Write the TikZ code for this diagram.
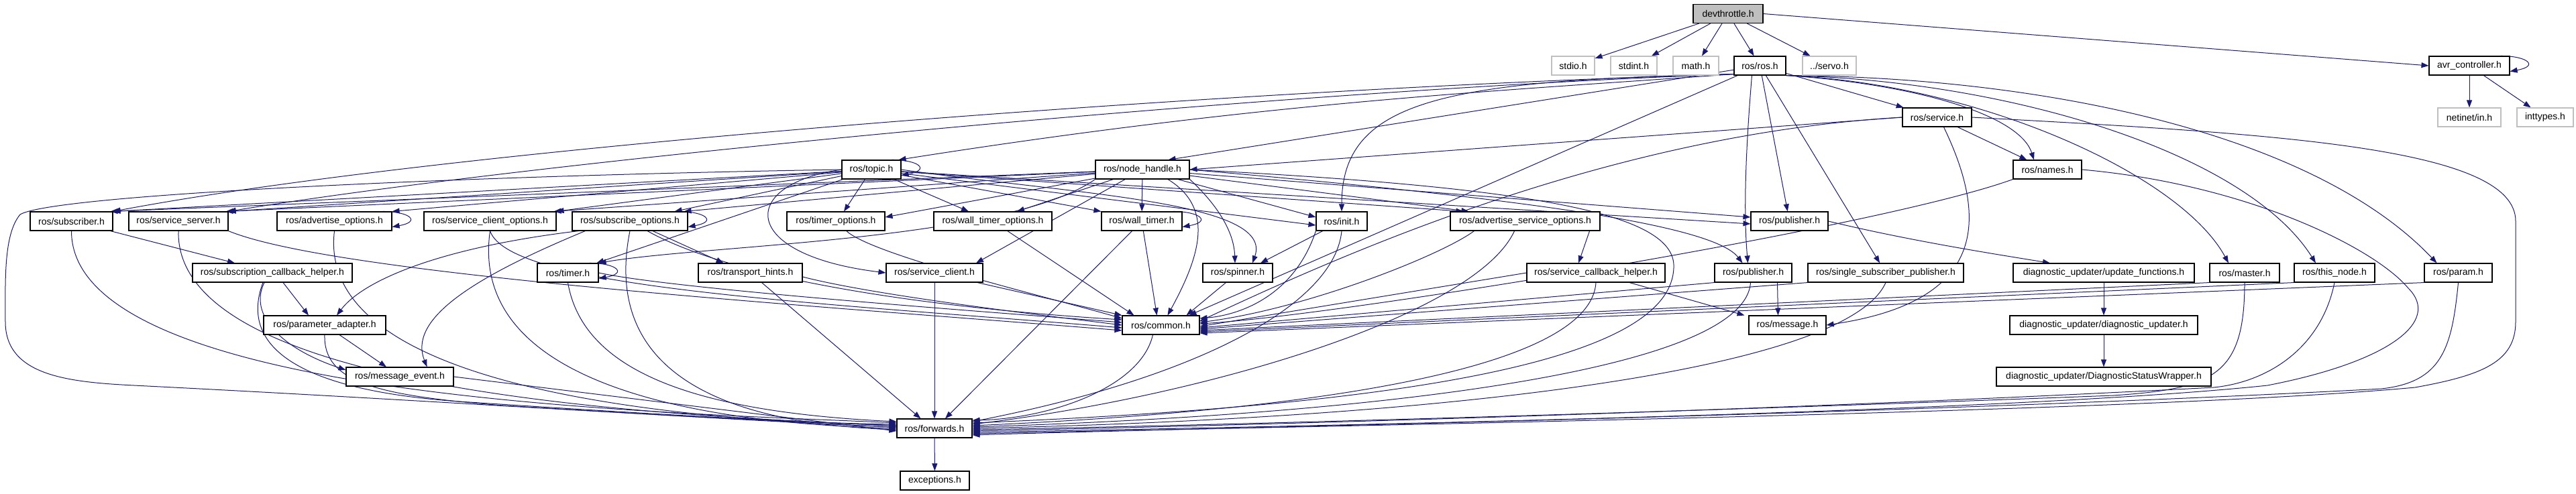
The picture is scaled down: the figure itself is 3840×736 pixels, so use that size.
\documentclass[tikz,border=0pt]{standalone}
\usepackage{fontspec}
\setmainfont{Liberation Sans}
\usetikzlibrary{arrows.meta}
\definecolor{edgeblue}{HTML}{191970}
\definecolor{extgray}{HTML}{BFBFBF}
\pgfdeclarelayer{edgelayer}
\pgfsetlayers{edgelayer,main}
\tikzset{
  hdr/.style={draw=black, line width=0.55pt, fill=white, minimum height=14pt,
    inner sep=0pt, font=\fontsize{7}{8}\selectfont},
  ext/.style={hdr, draw=extgray},
  root/.style={hdr, fill=extgray},
  wd/.style={minimum width=#1*0.5pt},
  e/.style={draw=edgeblue, line width=0.5pt, -{Triangle[length=5.5pt,width=4pt]}},
}
\newcommand{\hdrloop}[1]{\draw[e] ([xshift=-7pt]#1.north east) .. controls +(20pt,0pt) and +(22pt,4pt) .. ([yshift=3pt]#1.south east);}
\begin{document}
\begin{tikzpicture}[x=0.5pt,y=-0.5pt]
\useasboundingbox (0,0) rectangle (3840,736);
% ---------------- nodes
\node[root, wd=104] (dev) at (2576,20.5) {devthrottle.h};
\node[ext, wd=64] (stdio) at (2345,98) {stdio.h};
\node[ext, wd=69] (stdint) at (2435.5,98) {stdint.h};
\node[ext, wd=68] (math) at (2528,98) {math.h};
\node[hdr, wd=77] (ros) at (2623.5,98) {ros/ros.h};
\node[ext, wd=80] (servo) at (2727,98) {../servo.h};
\node[hdr, wd=120] (avr) at (3681,98) {avr\_controller.h};
\node[hdr, wd=103] (service) at (2887.5,175) {ros/service.h};
\node[ext, wd=94] (netinet) at (3681,175) {netinet/in.h};
\node[ext, wd=84] (inttypes) at (3794,175) {inttypes.h};
\node[hdr, wd=88] (topic) at (1299,253) {ros/topic.h};
\node[hdr, wd=140] (nh) at (1703,253) {ros/node\_handle.h};
\node[hdr, wd=102] (names) at (3052,253) {ros/names.h};
\node[hdr, wd=123] (subscriber) at (106.5,330) {ros/subscriber.h};
\node[hdr, wd=148] (srvserver) at (266,330) {ros/service\_server.h};
\node[hdr, wd=171] (advopts) at (498.5,330) {ros/advertise\_options.h};
\node[hdr, wd=197] (srvcliopts) at (730.5,330) {ros/service\_client\_options.h};
\node[hdr, wd=172] (subopts) at (939,330) {ros/subscribe\_options.h};
\node[hdr, wd=146] (timeropts) at (1246,330) {ros/timer\_options.h};
\node[hdr, wd=176] (walltimeropts) at (1480,330) {ros/wall\_timer\_options.h};
\node[hdr, wd=120] (walltimer) at (1702,330) {ros/wall\_timer.h};
\node[hdr, wd=76] (init) at (2000,330) {ros/init.h};
\node[hdr, wd=223] (advsrvopts) at (2273.5,330) {ros/advertise\_service\_options.h};
\node[hdr, wd=115] (pubA) at (2667.5,330) {ros/publisher.h};
\node[hdr, wd=238] (subcbhelper) at (406,407) {ros/subscription\_callback\_helper.h};
\node[hdr, wd=91] (timer) at (846.5,407) {ros/timer.h};
\node[hdr, wd=155] (transport) at (1118.5,407) {ros/transport\_hints.h};
\node[hdr, wd=144] (srvclient) at (1393,407) {ros/service\_client.h};
\node[hdr, wd=104] (spinner) at (1845,407) {ros/spinner.h};
\node[hdr, wd=206] (srvcbhelper) at (2379,407) {ros/service\_callback\_helper.h};
\node[hdr, wd=115] (pubB) at (2613.5,407) {ros/publisher.h};
\node[hdr, wd=232] (ssp) at (2811,407) {ros/single\_subscriber\_publisher.h};
\node[hdr, wd=270] (updfunc) at (3136,407) {diagnostic\_updater/update\_functions.h};
\node[hdr, wd=104] (master) at (3346,407) {ros/master.h};
\node[hdr, wd=120] (thisnode) at (3480,407) {ros/this\_node.h};
\node[hdr, wd=101] (param) at (3664.5,407) {ros/param.h};
\node[hdr, wd=182] (paramadapter) at (484,485) {ros/parameter\_adapter.h};
\node[hdr, wd=115] (common) at (1730.5,485) {ros/common.h};
\node[hdr, wd=115] (message) at (2664.5,485) {ros/message.h};
\node[hdr, wd=280] (diagupd) at (3136,485) {diagnostic\_updater/diagnostic\_updater.h};
\node[hdr, wd=160] (msgevent) at (596,562) {ros/message\_event.h};
\node[hdr, wd=320] (dsw) at (3136,562) {diagnostic\_updater/DiagnosticStatusWrapper.h};
\node[hdr, wd=112] (forwards) at (1393,639) {ros/forwards.h};
\node[hdr, wd=103] (exceptions) at (1393.5,717) {exceptions.h};
\begin{pgfonlayer}{edgelayer}
% ---------------- devthrottle / avr
\draw[e] (dev) -- (stdio);
\draw[e] (dev) -- (stdint);
\draw[e] (dev) -- (math);
\draw[e] (dev) -- (ros);
\draw[e] (dev) -- (servo);
\draw[e] (dev.east) -- (avr.west);
\hdrloop{avr}
\draw[e] (avr) -- (netinet);
\draw[e] (avr) -- (inttypes);
% ---------------- ros.h
\draw[e] ([yshift=1pt]ros.south west) .. controls (2250,135) and (1900,150) .. ([xshift=-2pt]topic.north east);
\draw[e] (ros) -- ([xshift=-16pt]nh.north east);
\draw[e] ([yshift=1pt]ros.south west) .. controls (1900,130) and (700,215) .. (subscriber.north east);
\draw[e] ([yshift=1pt]ros.south west) .. controls (1900,135) and (800,240) .. (srvserver.north east);
\draw[e] ([yshift=1pt]ros.south west) .. controls (2150,120) and (2000,150) .. (init.north);
\draw[e] (ros) -- ([xshift=-8pt]common.north east);
\draw[e] (ros) -- (pubA);
\draw[e] ([xshift=-6pt]ros.south) .. controls (2600,250) and (2600,330) .. ([xshift=-4pt]pubB.north);
\draw[e] (ros) -- (ssp);
\draw[e] (ros) -- (service);
\draw[e] (ros.south east) .. controls (2850,125) and (3010,170) .. ([xshift=-10pt]names.north);
\draw[e] (ros.south east) .. controls (2950,125) and (3250,260) .. ([xshift=-12pt]master.north);
\draw[e] (ros.south east) .. controls (3000,120) and (3350,230) .. ([xshift=-14pt]thisnode.north);
\draw[e] (ros.south east) .. controls (3050,115) and (3450,200) .. ([xshift=-16pt]param.north);
% ---------------- service.h
\draw[e] (service.west) -- (nh.east);
\draw[e] (service.west) .. controls (2400,200) and (2000,380) .. ([yshift=3pt]common.east);
\draw[e] (service) -- (names);
\draw[e] ([xshift=5pt]service.south) .. controls (2965,330) and (2960,450) .. (message.east);
\draw[e] (service.east) .. controls (3400,200) and (3750,220) .. (3750,330) -- (3750,480) .. controls (3750,540) and (3700,560) .. (3600,578) .. controls (3200,615) and (2000,635) .. ([yshift=-4pt]forwards.east);
% ---------------- names.h
\draw[e] (names.south west) .. controls (2800,340) and (2000,470) .. ([yshift=1pt]common.east);
\draw[e] (names.east) .. controls (3350,275) and (3540,370) .. (3590,430) .. controls (3640,480) and (3560,540) .. (3380,575) .. controls (3000,615) and (2000,635) .. ([yshift=-3pt]forwards.east);
% ---------------- topic.h
\hdrloop{topic}
\draw[e] (topic) -- (subscriber.north east);
\draw[e] (topic) -- (srvserver.north east);
\draw[e] (topic) -- (advopts.north east);
\draw[e] (topic) -- (srvcliopts.north east);
\draw[e] (topic) -- ([xshift=-10pt]subopts.north east);
\draw[e] (topic) -- ([xshift=6pt]timeropts.north);
\draw[e] (topic) -- ([xshift=-18pt]walltimeropts.north);
\draw[e] (topic) -- (walltimer.north west);
\draw[e] (topic) -- ([yshift=-3pt]init.west);
\draw[e] (topic) -- ([xshift=10pt]advsrvopts.north west);
\draw[e] (topic) -- ([yshift=-2pt]pubA.west);
\draw[e] (topic) -- (timer);
\draw[e] (topic.west) .. controls (1100,275) and (1100,380) .. (srvclient.west);
\draw[e] (topic.east) .. controls (1600,290) and (1900,300) .. ([xshift=11pt]spinner.north);
\draw[e] (topic.west) .. controls (700,262) and (80,290) .. (30,320) .. controls (5,350) and (8,420) .. (8,480) .. controls (8,560) and (100,570) .. (200,575) .. controls (700,600) and (1100,630) .. ([yshift=3pt]forwards.west);
% ---------------- node_handle.h
\draw[e] (nh) -- ([xshift=-2pt]subscriber.north east);
\draw[e] (nh) -- ([xshift=-2pt]srvserver.north east);
\draw[e] (nh) -- ([xshift=-2pt]srvcliopts.north east);
\draw[e] (nh) -- ([xshift=-3pt]subopts.north east);
\draw[e] (nh) -- ([yshift=3pt]timeropts.east);
\draw[e] (nh) -- ([xshift=18pt]walltimeropts.north);
\draw[e] (nh) -- (walltimer);
\draw[e] (nh) -- ([yshift=3pt]init.west);
\draw[e] (nh) -- ([xshift=14pt]advsrvopts.north west);
\draw[e] (nh) -- ([yshift=3pt]pubA.west);
\draw[e] (nh.east) .. controls (2200,290) and (2550,330) .. ([xshift=-8pt]pubB.north);
\draw[e] (nh.south west) .. controls (1500,360) and (1050,365) .. (timer.north east);
\draw[e] (nh) -- ([xshift=31pt]srvclient.north);
\draw[e] (nh.south east) .. controls (1830,320) and (1840,360) .. ([xshift=-2pt]spinner.north);
\draw[e] ([xshift=19pt]nh.south) .. controls (1810,310) and (1790,380) .. ([xshift=5pt]common.north);
\draw[e] (nh.east) .. controls (2300,280) and (2500,320) .. (2495,400) .. controls (2490,520) and (2200,600) .. ([yshift=4pt]forwards.east);
% ---------------- row 4 sources
\draw[e] ([xshift=-2pt]subscriber.south east) -- ([xshift=-28pt]subcbhelper.north);
\draw[e] (subscriber.south) .. controls (106,600) and (1000,615) .. ([yshift=4pt]forwards.west);
\draw[e] (srvserver.south east) .. controls (500,410) and (1200,455) .. ([yshift=-4pt]common.west);
\draw[e] (srvserver.south) .. controls (260,590) and (1000,620) .. ([yshift=2pt]forwards.west);
\hdrloop{advopts}
\draw[e] (advopts.south) .. controls (470,580) and (1000,625) .. ([yshift=1pt]forwards.west);
\draw[e] (srvcliopts.south) .. controls (760,430) and (1200,450) .. ([yshift=-2pt]common.west);
\draw[e] (srvcliopts.south) .. controls (700,560) and (1000,630) .. (forwards.west);
\hdrloop{subopts}
\draw[e] ([xshift=17pt]subopts.south) -- ([xshift=-20pt]transport.north);
\draw[e] ([xshift=5pt]subopts.south west) .. controls (650,370) and (540,420) .. ([xshift=9pt]paramadapter.north);
\draw[e] ([xshift=10pt]subopts.south west) .. controls (690,420) and (610,480) .. ([xshift=-20pt]msgevent.north east);
\draw[e] (subopts) .. controls (1100,420) and (1400,460) .. ([yshift=4pt]common.west);
\draw[e] (subopts.south) .. controls (900,540) and (1050,630) .. ([yshift=-1pt]forwards.west);
\draw[e] (timeropts) .. controls (1300,380) and (1550,440) .. ([yshift=5pt]common.west);
\draw[e] (walltimeropts) -- ([xshift=-20pt]common.north);
\hdrloop{walltimer}
\draw[e] (walltimer) -- ([xshift=-3pt]common.north);
\draw[e] (walltimer) -- ([xshift=8pt]forwards.north);
\draw[e] (init) -- ([xshift=17pt]spinner.north);
\draw[e] (init.south west) .. controls (1930,440) and (1850,470) .. ([yshift=5pt]common.east);
\draw[e] (init.south) .. controls (1990,450) and (1800,560) .. ([yshift=5pt]forwards.east);
\draw[e] ([xshift=18pt]advsrvopts.south west) .. controls (2150,380) and (1950,460) .. ([yshift=2pt]common.east);
\draw[e] ([xshift=-8pt]advsrvopts.south) .. controls (2200,470) and (1800,590) .. ([yshift=3pt]forwards.east);
\draw[e] ([xshift=-8pt]advsrvopts.south east) -- ([xshift=-13pt]srvcbhelper.north);
\draw[e] (pubA.east) .. controls (2850,360) and (2980,380) .. ([xshift=-40pt]updfunc.north);
% ---------------- row 5 sources
\draw[e] ([xshift=8pt]subcbhelper.south) -- ([xshift=-12pt]paramadapter.north);
\draw[e] ([xshift=-6pt]subcbhelper.south) .. controls (370,470) and (420,520) .. ([yshift=5pt]msgevent.west);
\draw[e] ([xshift=-7pt]subcbhelper.south) .. controls (355,520) and (450,585) .. (700,600) .. controls (1000,620) and (1200,630) .. ([yshift=2pt]forwards.west);
\hdrloop{timer}
\draw[e] (timer.east) .. controls (1000,430) and (1400,460) .. ([yshift=2pt]common.west);
\draw[e] (timer.south) .. controls (870,560) and (1050,615) .. ([yshift=5pt]forwards.west);
\draw[e] ([yshift=-3pt]transport.east) .. controls (1300,440) and (1550,470) .. (common.west);
\draw[e] (transport) -- ([xshift=18pt]forwards.north west);
\draw[e] (srvclient) -- (common.north west);
\draw[e] (srvclient) -- (forwards);
\draw[e] (spinner) -- ([xshift=-10pt]common.north east);
\draw[e] (srvcbhelper.west) -- ([yshift=-1pt]common.east);
\draw[e] ([xshift=25pt]srvcbhelper.south) -- ([xshift=-32pt]message.north);
\draw[e] (srvcbhelper.south) .. controls (2370,560) and (1900,615) .. ([yshift=2pt]forwards.east);
\draw[e] ([xshift=18pt]pubB.south) -- ([xshift=-7pt]message.north);
\draw[e] (pubB.south west) -- ([yshift=-2pt]common.east);
\draw[e] ([xshift=-2pt]pubB.south) .. controls (2600,560) and (2000,620) .. ([yshift=1pt]forwards.east);
\draw[e] (ssp.south west) -- ([yshift=-3pt]common.east);
\draw[e] (ssp.south) .. controls (2750,560) and (2100,625) .. (forwards.east);
\draw[e] (updfunc) -- (diagupd);
\draw[e] (diagupd) -- (dsw);
\draw[e] (master.south west) -- ([yshift=-4pt]common.east);
\draw[e] (master.south) .. controls (3346,560) and (3300,580) .. (3150,590) .. controls (2500,615) and (1800,635) .. ([yshift=-1pt]forwards.east);
\draw[e] (thisnode.south west) -- ([yshift=-5pt]common.east);
\draw[e] (thisnode.south) .. controls (3460,520) and (3380,570) .. (3300,578) .. controls (2600,615) and (1800,636) .. ([yshift=-2pt]forwards.east);
\draw[e] (param.south west) -- ([yshift=-6pt]common.east);
\draw[e] (param.south) .. controls (3655,520) and (3640,570) .. (3550,580) .. controls (2800,620) and (1800,638) .. ([yshift=-5pt]forwards.east);
% ---------------- rows 6-8
\draw[e] ([xshift=11pt]paramadapter.south) -- ([xshift=-10pt]msgevent.north);
\draw[e] (paramadapter.south) .. controls (482,570) and (560,590) .. (750,605) .. controls (1000,620) and (1200,632) .. ([yshift=1pt]forwards.west);
\draw[e] (msgevent.east) -- ([yshift=-2pt]forwards.west);
\draw[e] ([xshift=-6pt]common.south) .. controls (1700,580) and (1560,625) .. ([yshift=6pt]forwards.east);
\draw[e] (forwards) -- (exceptions);
\end{pgfonlayer}
\end{tikzpicture}
\end{document}
